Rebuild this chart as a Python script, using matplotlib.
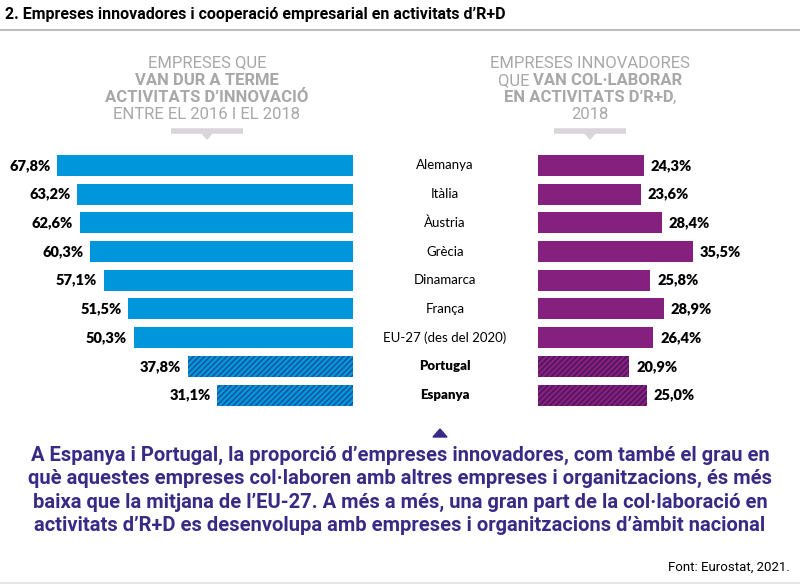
import matplotlib
matplotlib.use('Agg')
import matplotlib.pyplot as plt
import matplotlib.transforms as mtransforms
from matplotlib import font_manager

# ---------------- dades ----------------
paisos = ['Alemanya', 'Itàlia', 'Àustria', 'Grècia', 'Dinamarca', 'França',
          'EU-27 (des del 2020)', 'Portugal', 'Espanya']
innovacio = [67.8, 63.2, 62.6, 60.3, 57.1, 51.5, 50.3, 37.8, 31.1]
colaboracio = [24.3, 23.6, 28.4, 35.5, 25.8, 28.9, 26.4, 20.9, 25.0]
destacats = ['Portugal', 'Espanya']

# ---------------- estil ----------------
noms = {f.name for f in font_manager.fontManager.ttflist}
narrow = [n for n in ['Liberation Sans Narrow', 'DejaVu Sans Condensed', 'Roboto'] if n in noms] + ['DejaVu Sans']
geo = ['Lato', 'DejaVu Sans']
plt.rcParams['hatch.linewidth'] = 1.0

BLAU = '#0096db'
BLAU_H = '#1d4f96'
LILA = '#85207f'
LILA_H = '#4b1459'
GRIS = '#a9a7a9'
INDI = '#3a2a86'

W, H = 800, 584
fig = plt.figure(figsize=(8, 5.84), dpi=100)

def fx(px):
    return px / W

def fy(py):
    return 1 - py / H

# eixos: 4.36 px per punt percentual
esc = 4.36
top, bot = 151, 409.5
axL = fig.add_axes([fx(353 - 80 * esc), fy(bot), fx(80 * esc), (bot - top) / H])
axR = fig.add_axes([fx(538), fy(bot), fx(60 * esc), (bot - top) / H])

ys = list(range(len(paisos)))
for ax, vals, col, colh, xmax in [(axL, innovacio, BLAU, BLAU_H, 80),
                                 (axR, colaboracio, LILA, LILA_H, 60)]:
    for y, v, p in zip(ys, vals, paisos):
        if p in destacats:
            ax.barh(y, v, height=0.73, color=col, edgecolor=colh, hatch='//////', linewidth=0)
        else:
            ax.barh(y, v, height=0.73, color=col, linewidth=0)
    ax.set_xlim(0, xmax)
    ax.set_ylim(len(paisos) - 0.5, -0.5)
    ax.axis('off')
axL.invert_xaxis()

for y, v in zip(ys, innovacio):
    axL.annotate(f'{v:.1f}%'.replace('.', ','), (v, y), xytext=(-5, 0), textcoords='offset points',
                 ha='right', va='center', fontsize=10.5, fontweight='heavy', family=geo)
for y, v in zip(ys, colaboracio):
    axR.annotate(f'{v:.1f}%'.replace('.', ','), (v, y), xytext=(5, 0), textcoords='offset points',
                 ha='left', va='center', fontsize=10.5, fontweight='heavy', family=geo)

tr = mtransforms.blended_transform_factory(fig.transFigure, axR.transData)
for y, p in zip(ys, paisos):
    fig.text(fx(445), y, p, transform=tr, ha='center', va='center', fontsize=9.5, family=geo,
             fontweight='heavy' if p in destacats else 'normal')

# ---------------- títol ----------------
fig.text(fx(5), fy(14), '2. Empreses innovadores i cooperació empresarial en activitats d’R+D',
         ha='left', va='center', fontsize=11.5, fontweight='bold', family=narrow)
fig.add_artist(plt.Line2D([0, 1], [fy(30), fy(30)], color='#bdbdbd', lw=1.5))

# ---------------- capçaleres ----------------
FS_CAP = 12
capL = [('EMPRESES QUE', 'normal'), ('VAN DUR A TERME', 'bold'),
        ('ACTIVITATS D’INNOVACIÓ', 'bold'), ('ENTRE EL 2016 I EL 2018', 'normal')]
for k, (t, w) in enumerate(capL):
    fig.text(fx(207), fy(63 + 17.3 * k), t, ha='center', va='center', fontsize=FS_CAP,
             fontweight=w, color=GRIS, family=narrow)
capR = [[('EMPRESES INNOVADORES', 'normal')],
        [('QUE ', 'normal'), ('VAN COL·LABORAR', 'bold')],
        [('EN ACTIVITATS D’R+D', 'bold'), (',', 'normal')],
        [('2018', 'normal')]]
r = fig.canvas.get_renderer()
for k, parts in enumerate(capR):
    # parts amb pes diferent, centrades en conjunt
    ws = []
    for t, w in parts:
        tx = fig.text(0, 0, t, fontsize=FS_CAP, fontweight=w, family=narrow)
        ws.append(tx.get_window_extent(r).width)
        tx.remove()
    x0 = 590 - sum(ws) / 2
    for (t, w), wd in zip(parts, ws):
        fig.text(fx(x0), fy(63 + 17.3 * k), t, ha='left', va='center', fontsize=FS_CAP,
                 fontweight=w, color=GRIS, family=narrow)
        x0 += wd

for cx in [207, 590]:
    fig.add_artist(plt.Line2D([fx(cx - 36), fx(cx + 36)], [fy(131), fy(131)], color='#d9d6d9', lw=4,
                              solid_capstyle='butt'))
    fig.add_artist(plt.Polygon([[fx(cx - 6), fy(132)], [fx(cx + 6), fy(132)], [fx(cx), fy(139)]],
                               closed=True, color='#d9d6d9'))

# ---------------- text inferior ----------------
fig.add_artist(plt.Polygon([[fx(433), fy(437)], [fx(447), fy(437)], [fx(440), fy(429)]],
                           closed=True, color=INDI))
peu = ['A Espanya i Portugal, la proporció d’empreses innovadores, com també el grau en',
       'què aquestes empreses col·laboren amb altres empreses i organitzacions, és més',
       'baixa que la mitjana de l’EU-27. A més a més, una gran part de la col·laboració en',
       'activitats d’R+D es desenvolupa amb empreses i organitzacions d’àmbit nacional']
for k, t in enumerate(peu):
    fig.text(fx(400), fy(455 + 23.5 * k), t, ha='center', va='center', fontsize=14.5,
             fontweight='bold', color=INDI, family=narrow)

fig.text(fx(790), fy(567), 'Font: Eurostat, 2021.', ha='right', va='center', fontsize=9.5,
         family=narrow)
fig.add_artist(plt.Line2D([0, 1], [fy(583), fy(583)], color='#e3e3e3', lw=2))

fig.savefig('out.png', dpi=100)
